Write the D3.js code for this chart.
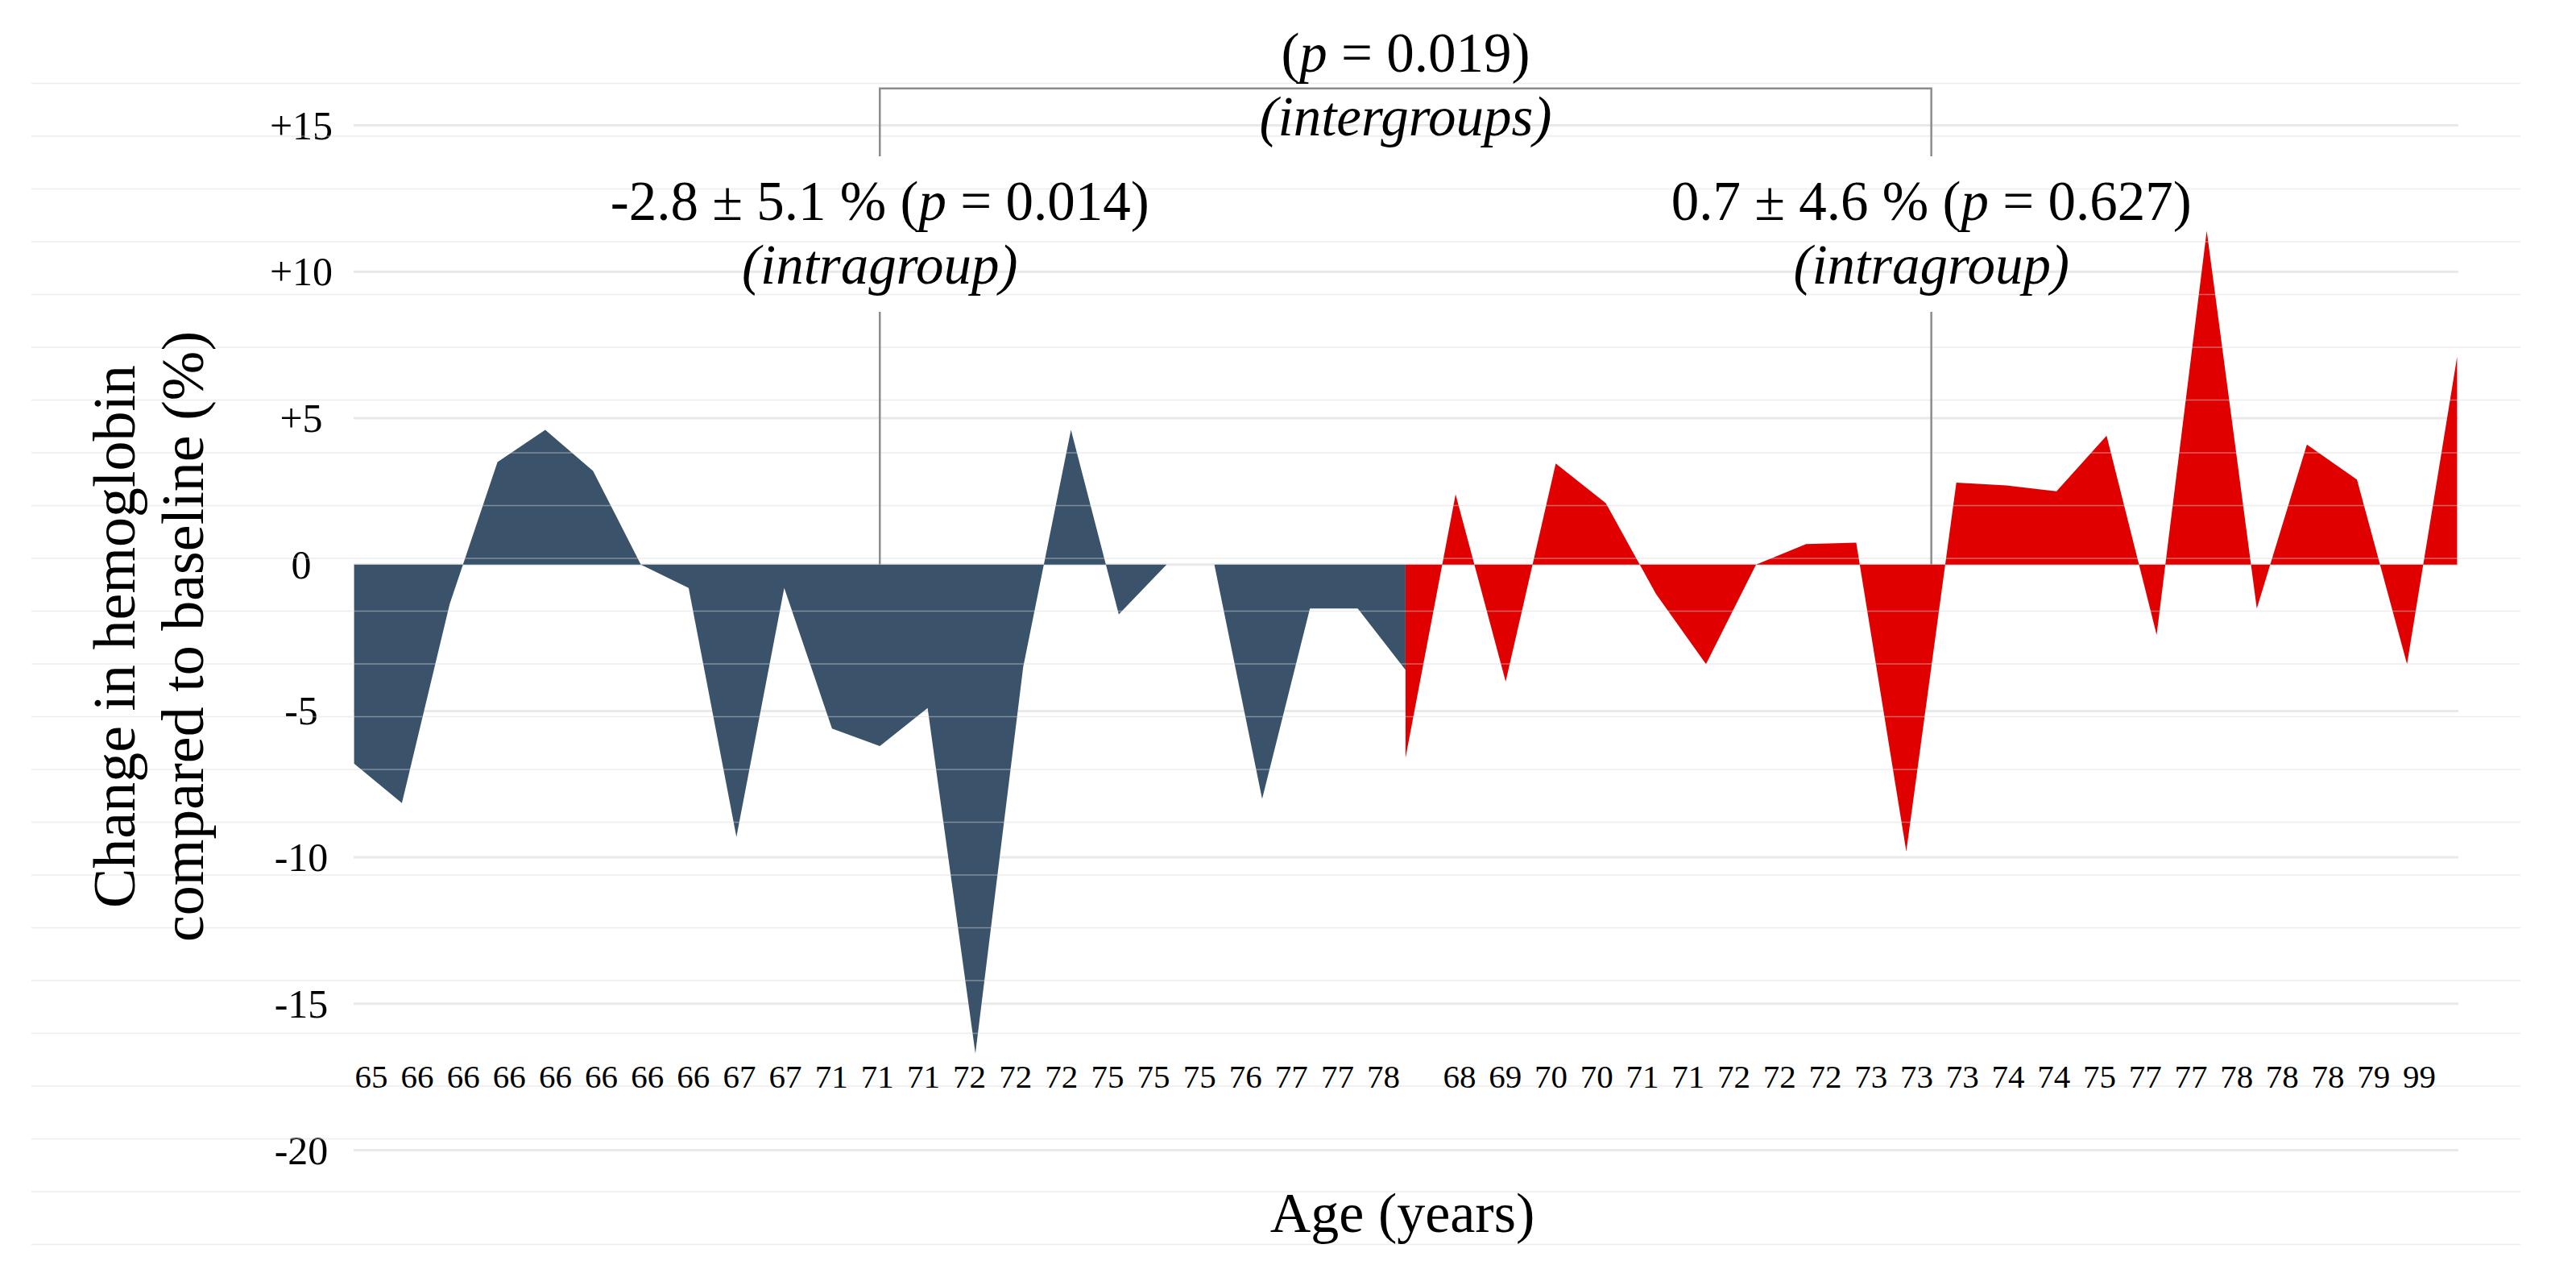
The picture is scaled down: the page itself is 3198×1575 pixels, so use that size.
<!DOCTYPE html>
<html>
<head>
<meta charset="utf-8">
<script src="https://cdn.jsdelivr.net/npm/d3@7"></script>
<style>
  body{margin:0;background:#fff;}
  svg{display:block;font-family:"Liberation Serif",serif;}
</style>
</head>
<body>
<svg id="chart" width="3198" height="1575"></svg>
<script>
// ages (x labels) and change in hemoglobin (%) for each group
var ageBlue = ["65","66","66","66","66","66","66","66","67","67","71","71","71","72","72","72","75","75","75","76","77","77","78"];
var changeBlue = [-6.8,-8.15,-1.35,3.5,4.6,3.2,0,-0.8,-9.3,-0.8,-5.6,-6.2,-4.9,-16.7,-3.5,4.6,-1.7,0,0,-8.0,-1.5,-1.5,-3.6];
var ageRed = ["68","69","70","70","71","71","72","72","72","73","73","73","74","74","75","77","77","78","78","78","79","99"];
var changeRed = [-6.6,2.4,-4.0,3.45,2.1,-1.0,-3.4,0,0.7,0.75,-9.8,2.8,2.7,2.5,4.4,-2.4,11.4,-1.5,4.1,2.9,-3.4,7.1];
var yTicks = [-20,-15,-10,-5,0,5,10,15];
var yTickLabels = ["-20","-15","-10","-5","0","+5","+10","+15"];
// stats per group: blue, red
var groupMean = ["-2.8","0.7"];
var groupSd = ["5.1","4.6"];
var groupP = ["0.014","0.627"];
var interP = "0.019";

var blueCol = "#3a536b", redCol = "#e00000";
var svg = d3.select('#chart');

var y = d3.scaleLinear().domain([-20,15]).range([1427.5,155.6]);
var xBlue = d3.scaleLinear().domain([0,changeBlue.length-1]).range([439.6,1744.9]);
var xRed = d3.scaleLinear().domain([0,changeRed.length-1]).range([1744.9,3050.4]);
var lblBlue = d3.scalePoint().domain(d3.range(ageBlue.length)).range([461,1717.6]);
var lblRed = d3.scalePoint().domain(d3.range(ageRed.length)).range([1812,3003.6]);
var plotL = 439, plotR = 3052;

// major gridlines
svg.append('g').selectAll('line')
  .data(yTicks)
  .enter().append('line')
  .attr('x1',plotL).attr('x2',plotR)
  .attr('y1',function(d){return y(d);})
  .attr('y2',function(d){return y(d);})
  .attr('stroke','#e9e9e9')
  .attr('stroke-width',3);

// y tick labels
svg.append('g').selectAll('text')
  .data(yTicks)
  .enter().append('text')
  .attr('x',374)
  .attr('y',function(d){return y(d)+17;})
  .attr('text-anchor','middle')
  .attr('font-size',50)
  .text(function(d,i){return yTickLabels[i];});

// areas
var areaBlue = d3.area()
  .x(function(d,i){return xBlue(i);})
  .y0(y(0))
  .y1(function(d){return y(d);});
var areaRed = d3.area()
  .x(function(d,i){return xRed(i);})
  .y0(y(0))
  .y1(function(d){return y(d);});
svg.append('path').datum(changeBlue).attr('d',areaBlue).attr('fill',blueCol);
svg.append('path').datum(changeRed).attr('d',areaRed).attr('fill',redCol);

// faint page lines over everything
svg.append('g').selectAll('line')
  .data(d3.range(23))
  .enter().append('line')
  .attr('x1',39).attr('x2',3129)
  .attr('y1',function(d){return 103.6+d*65.5;})
  .attr('y2',function(d){return 103.6+d*65.5;})
  .attr('stroke','#d6d6d6')
  .attr('stroke-opacity',0.45)
  .attr('stroke-width',1.5);

// x labels
svg.append('g').selectAll('text')
  .data(ageBlue)
  .enter().append('text')
  .attr('x',function(d,i){return lblBlue(i);})
  .attr('y',1350)
  .attr('text-anchor','middle')
  .attr('font-size',41)
  .text(function(d){return d;});
svg.append('g').selectAll('text')
  .data(ageRed)
  .enter().append('text')
  .attr('x',function(d,i){return lblRed(i);})
  .attr('y',1350)
  .attr('text-anchor','middle')
  .attr('font-size',41)
  .text(function(d){return d;});

// axis titles
svg.append('text')
  .attr('x',1741).attr('y',1529)
  .attr('text-anchor','middle')
  .attr('font-size',70)
  .text('Age (years)');
var yt = svg.append('text')
  .attr('transform','translate(0,790) rotate(-90)')
  .attr('text-anchor','middle')
  .attr('font-size',74);
yt.append('tspan').attr('x',0).attr('y',167).text('Change in hemoglobin');
yt.append('tspan').attr('x',0).attr('y',252).text('compared to baseline (%)');

// group centres for annotation
var cx = [xBlue((changeBlue.length-1)/2), xRed((changeRed.length-1)/2)];
var lineCol = '#8c8c8c';

// bracket
var br = d3.path();
br.moveTo(cx[0],194); br.lineTo(cx[0],109.7); br.lineTo(cx[1],109.7); br.lineTo(cx[1],194);
svg.append('path').attr('d',br.toString()).attr('fill','none')
  .attr('stroke',lineCol).attr('stroke-width',2.5);

// drop lines to zero
svg.append('g').selectAll('line')
  .data(cx)
  .enter().append('line')
  .attr('x1',function(d){return d;}).attr('x2',function(d){return d;})
  .attr('y1',387).attr('y2',y(0))
  .attr('stroke',lineCol).attr('stroke-width',2.5);

// group stats
cx.forEach(function(c,i){
  var t = svg.append('text').attr('x',c).attr('y',273)
    .attr('text-anchor','middle').attr('font-size',69);
  t.append('tspan').text(groupMean[i]+' \u00b1 '+groupSd[i]+' % (');
  t.append('tspan').attr('font-style','italic').text('p');
  t.append('tspan').text(' = '+groupP[i]+')');
  svg.append('text').attr('x',c).attr('y',352)
    .attr('text-anchor','middle').attr('font-size',69)
    .attr('font-style','italic').text('(intragroup)');
});

var mid = (cx[0]+cx[1])/2;
var tp = svg.append('text').attr('x',mid).attr('y',89)
  .attr('text-anchor','middle').attr('font-size',69);
tp.append('tspan').text('(');
tp.append('tspan').attr('font-style','italic').text('p');
tp.append('tspan').text(' = '+interP+')');
svg.append('text').attr('x',mid).attr('y',168)
  .attr('text-anchor','middle').attr('font-size',69)
  .attr('font-style','italic').text('(intergroups)');
</script>
</body>
</html>
